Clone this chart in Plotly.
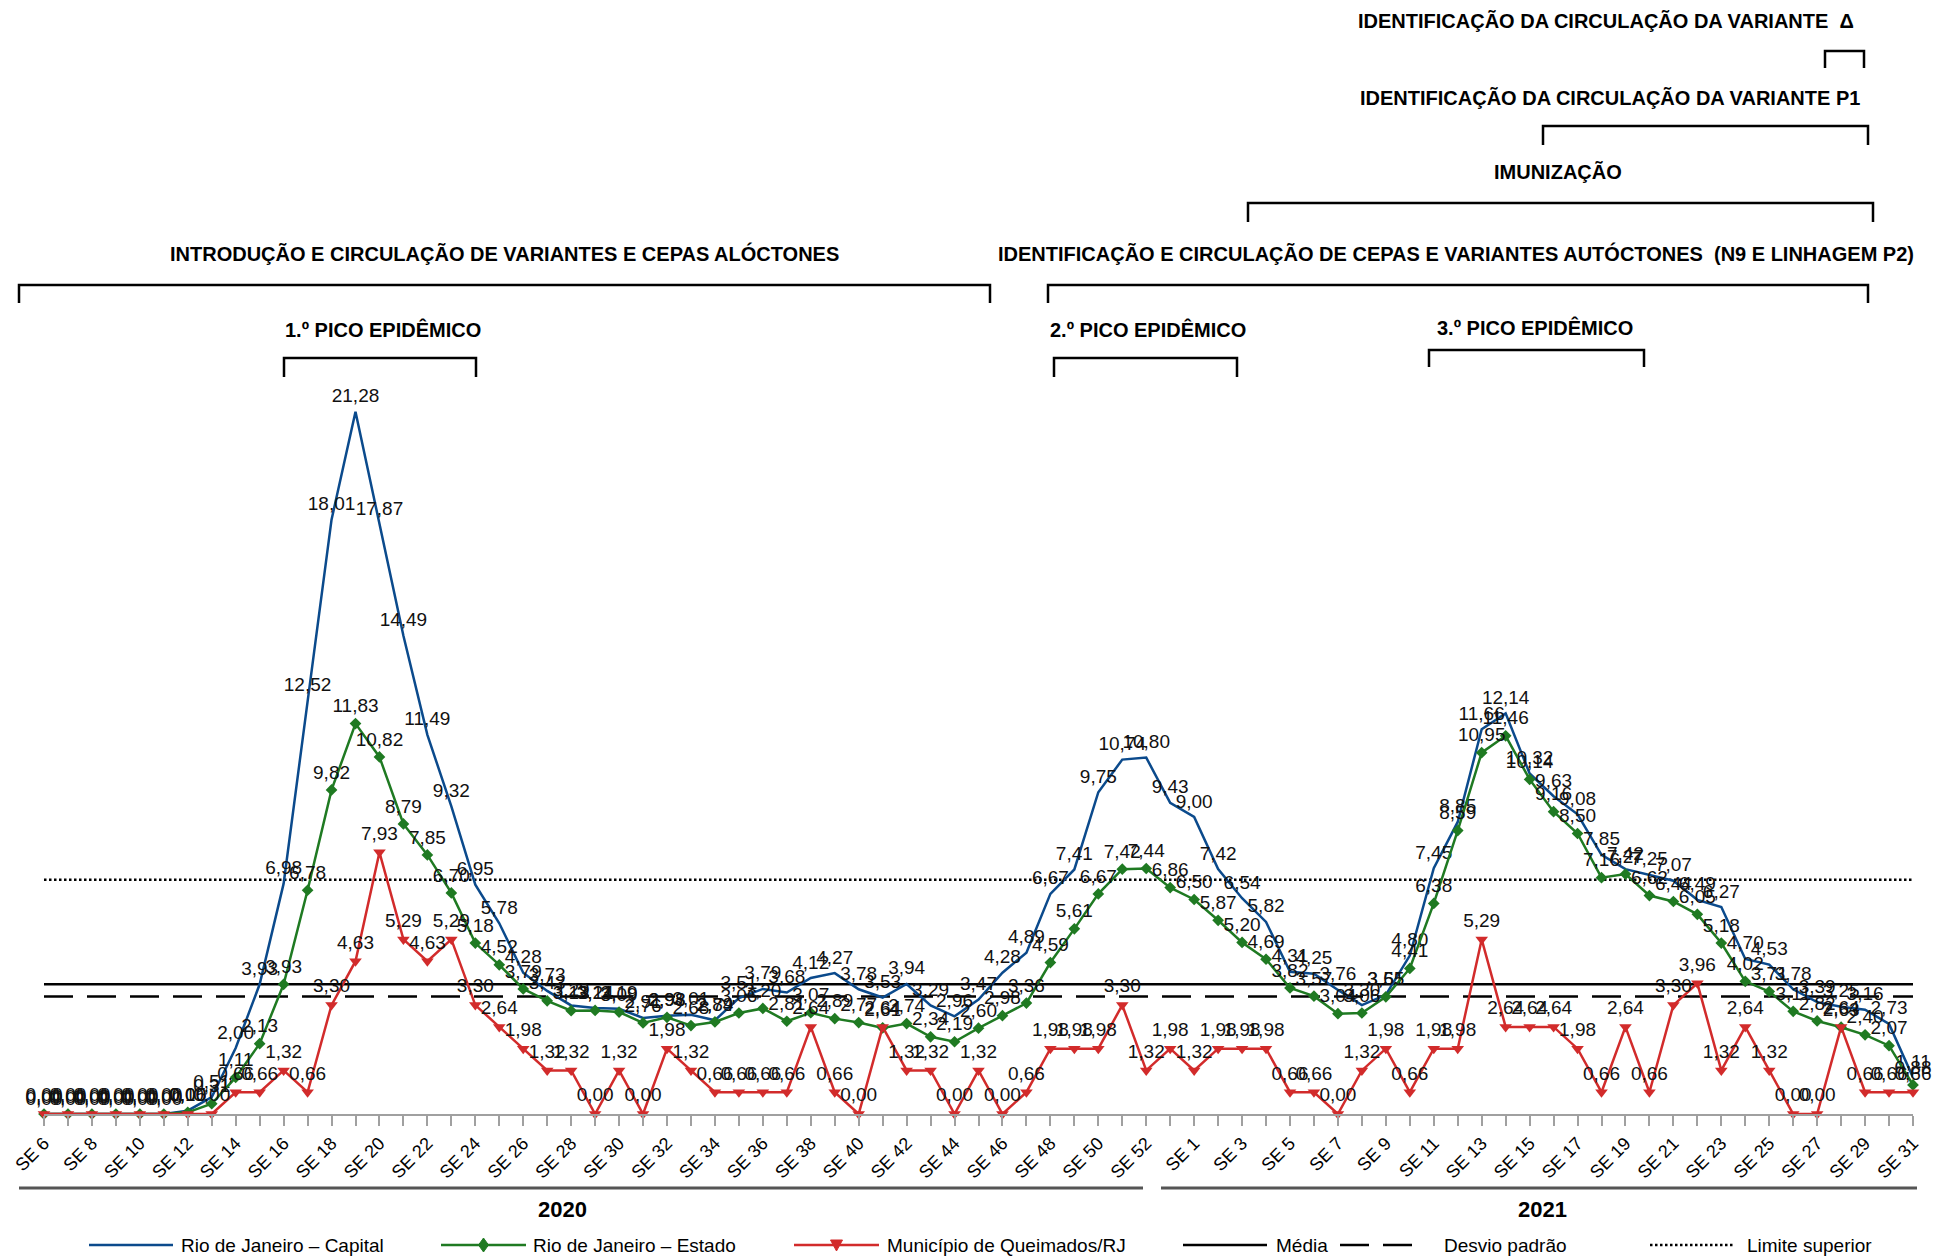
import plotly.graph_objects as go

# semanas epidemiologicas: 2020 (SE 6 a SE 53) e 2021 (SE 1 a SE 31)
weeks_2020 = [f"SE {n}" for n in range(6, 54)]
weeks_2021 = [f"SE {n}" for n in range(1, 32)]
weeks = weeks_2020 + weeks_2021

capital = [
    0.00, 0.00, 0.00, 0.00, 0.00, 0.00, 0.10, 0.51, 2.00, 3.93, 6.98, 12.52,
    18.01, 21.28, 17.87, 14.49, 11.49, 9.32, 6.95, 5.78, 4.28, 3.73, 3.29, 3.21,
    3.19, 2.91, 2.98, 3.01, 2.84, 3.51, 3.79, 3.68, 4.12, 4.27, 3.78, 3.53,
    3.94, 3.29, 2.96, 3.47, 4.28, 4.89, 6.67, 7.41, 9.75, 10.74, 10.80, 9.43,
    9.00, 7.42, 6.54, 5.82, 4.31, 4.25, 3.76, 3.30, 3.61, 4.80, 7.45, 8.85,
    11.66, 12.14, 10.32, 9.63, 9.08, 7.85, 7.42, 7.25, 7.07, 6.49, 6.27, 4.70,
    4.53, 3.78, 3.39, 3.25, 3.16, 2.73, 1.11]

estado = [
    0.00, 0.00, 0.00, 0.00, 0.00, 0.00, 0.05, 0.31, 1.11, 2.13, 3.93, 6.78,
    9.82, 11.83, 10.82, 8.79, 7.85, 6.70, 5.18, 4.52, 3.79, 3.43, 3.13, 3.14,
    3.09, 2.76, 2.93, 2.68, 2.79, 3.06, 3.20, 2.81, 3.07, 2.89, 2.77, 2.61,
    2.74, 2.34, 2.19, 2.60, 2.98, 3.36, 4.59, 5.61, 6.67, 7.42, 7.44, 6.86,
    6.50, 5.87, 5.20, 4.69, 3.82, 3.57, 3.04, 3.06, 3.55, 4.41, 6.38, 8.59,
    10.95, 11.46, 10.14, 9.16, 8.50, 7.16, 7.27, 6.62, 6.44, 6.05, 5.18, 4.02,
    3.71, 3.11, 2.82, 2.63, 2.40, 2.07, 0.88]

queimados = [
    0.00, 0.00, 0.00, 0.00, 0.00, 0.00, 0.00, 0.00, 0.66, 0.66, 1.32, 0.66,
    3.30, 4.63, 7.93, 5.29, 4.63, 5.29, 3.30, 2.64, 1.98, 1.32, 1.32, 0.00,
    1.32, 0.00, 1.98, 1.32, 0.66, 0.66, 0.66, 0.66, 2.64, 0.66, 0.00, 2.64,
    1.32, 1.32, 0.00, 1.32, 0.00, 0.66, 1.98, 1.98, 1.98, 3.30, 1.32, 1.98,
    1.32, 1.98, 1.98, 1.98, 0.66, 0.66, 0.00, 1.32, 1.98, 0.66, 1.98, 1.98,
    5.29, 2.64, 2.64, 2.64, 1.98, 0.66, 2.64, 0.66, 3.30, 3.96, 1.32, 2.64,
    1.32, 0.00, 0.00, 2.64, 0.66, 0.66, 0.66]

media = 3.93
desvio = 3.56
limite = 7.10

BLUE = "#0B4A8C"
GREEN = "#1F7A22"
RED = "#D22B2B"
FONT = "Liberation Sans"
BOLD = "Liberation Sans Narrow, Arial Narrow, Liberation Sans"

x = list(range(len(weeks)))


def fmt(v):
    return f"{v:.2f}".replace(".", ",")


# screen pixel -> paper (plot area x 44..1913, y 0..1114)
def px(xs):
    return (xs - 44) / 1869


def py(ys):
    return (1114 - ys) / 1114


fig = go.Figure()

# linhas de referencia
for val, dash in [(media, "solid"), (desvio, "29px,14px"), (limite, "2.5px,2.5px")]:
    fig.add_trace(go.Scatter(x=x, y=[val] * len(x), mode="lines",
                             line=dict(color="black", width=2.5, dash=dash),
                             hoverinfo="skip", showlegend=False))

lab_font = dict(size=19, color="#111", family=FONT)
fig.add_trace(go.Scatter(x=x, y=capital, mode="lines+markers+text",
                         text=[fmt(v) for v in capital], textposition="top center",
                         textfont=lab_font,
                         line=dict(color=BLUE, width=2.5),
                         marker=dict(size=6, opacity=0),
                         cliponaxis=False, showlegend=False))
fig.add_trace(go.Scatter(x=x, y=estado, mode="lines+markers+text",
                         text=[fmt(v) for v in estado], textposition="top center",
                         textfont=lab_font,
                         line=dict(color=GREEN, width=2.5),
                         marker=dict(symbol="diamond", size=9, color=GREEN),
                         cliponaxis=False, showlegend=False))
fig.add_trace(go.Scatter(x=x, y=queimados, mode="lines+markers+text",
                         text=[fmt(v) for v in queimados], textposition="top center",
                         textfont=lab_font,
                         line=dict(color=RED, width=2.5),
                         marker=dict(symbol="triangle-down", size=11, color=RED),
                         cliponaxis=False, showlegend=False))

shapes = []
annotations = []

# colchetes e rotulos dos periodos
brackets = [
    (1825, 1864, 51, 68),
    (1543, 1868, 126, 145),
    (1248, 1873, 203, 222),
    (19, 990, 285, 303),
    (1048, 1868, 285, 303),
    (284, 476, 358, 377),
    (1054, 1237, 358, 377),
    (1429, 1644, 350, 367),
]
for x0, x1, yt, yb in brackets:
    shapes.append(dict(type="path", xref="paper", yref="paper",
                       path=f"M{px(x0)},{py(yb)} L{px(x0)},{py(yt)} L{px(x1)},{py(yt)} L{px(x1)},{py(yb)}",
                       line=dict(color="black", width=2.5)))

labels_top = [
    ("IDENTIFICAÇÃO DA CIRCULAÇÃO DA VARIANTE  Δ", 1606, 21),
    ("IDENTIFICAÇÃO DA CIRCULAÇÃO DA VARIANTE P1", 1610, 98),
    ("IMUNIZAÇÃO", 1558, 172),
    ("INTRODUÇÃO E CIRCULAÇÃO DE VARIANTES E CEPAS ALÓCTONES", 504, 253),
    ("IDENTIFICAÇÃO E CIRCULAÇÃO DE CEPAS E VARIANTES AUTÓCTONES  (N9 E LINHAGEM P2)", 1456, 253),
    ("1.º PICO EPIDÊMICO", 383, 329),
    ("2.º PICO EPIDÊMICO", 1148, 329),
    ("3.º PICO EPIDÊMICO", 1535, 327),
]
for txt, xc, yc in labels_top:
    annotations.append(dict(text=f"<b>{txt}</b>", xref="paper", yref="paper",
                            x=px(xc), y=py(yc), showarrow=False,
                            xanchor="center", yanchor="middle",
                            font=dict(size=20, color="black", family=BOLD)))

# separadores de ano
for x0, x1, yr, xc in [(19, 1143, "2020", 562), (1161, 1917, "2021", 1542)]:
    shapes.append(dict(type="line", xref="paper", yref="paper",
                       x0=px(x0), x1=px(x1), y0=py(1188), y1=py(1188),
                       line=dict(color="#555", width=3)))
    annotations.append(dict(text=f"<b>{yr}</b>", xref="paper", yref="paper",
                            x=px(xc), y=py(1209), showarrow=False,
                            xanchor="center", yanchor="middle",
                            font=dict(size=22, color="black", family=BOLD)))

# legenda desenhada a mao
ly = py(1245)
legend_items = [
    ("Rio de Janeiro – Capital", BLUE, "solid", None, 89, 173, 179),
    ("Rio de Janeiro – Estado", GREEN, "solid", "diamond", 441, 526, 531),
    ("Município de Queimados/RJ", RED, "solid", "tri", 794, 879, 885),
    ("Média", "black", "solid", None, 1183, 1267, 1274),
    ("Desvio padrão", "black", "29px,14px", None, 1340, 1412, 1442),
    ("Limite superior", "black", "2.5px,2.5px", None, 1650, 1735, 1745),
]
for name, col, dash, sym, x0, x1, xt in legend_items:
    shapes.append(dict(type="line", xref="paper", yref="paper",
                       x0=px(x0), x1=px(x1), y0=ly, y1=ly,
                       line=dict(color=col, width=2.5, dash=dash)))
    xm = (x0 + x1) / 2
    if sym == "diamond":
        shapes.append(dict(type="path", xref="paper", yref="paper",
                           path=f"M{px(xm - 5)},{ly} L{px(xm)},{py(1238)} L{px(xm + 5)},{ly} L{px(xm)},{py(1252)} Z",
                           fillcolor=col, line=dict(color=col, width=1)))
    elif sym == "tri":
        shapes.append(dict(type="path", xref="paper", yref="paper",
                           path=f"M{px(xm - 6)},{py(1240)} L{px(xm + 6)},{py(1240)} L{px(xm)},{py(1251)} Z",
                           fillcolor=col, line=dict(color=col, width=1)))
    annotations.append(dict(text=name, xref="paper", yref="paper",
                            x=px(xt), y=ly, showarrow=False,
                            xanchor="left", yanchor="middle",
                            font=dict(size=19, color="black", family=BOLD)))

fig.update_xaxes(range=[0, len(weeks) - 1],
                 tickvals=x[::2], ticktext=weeks[::2], tickangle=-45,
                 ticks="outside", ticklen=10, tickcolor="#a0a0a0", tickwidth=1.5,
                 minor=dict(ticks="outside", ticklen=10, dtick=1, tick0=0,
                            tickcolor="#a0a0a0", tickwidth=1.5),
                 showline=True, linecolor="#a0a0a0", linewidth=1.5,
                 showgrid=False, zeroline=False,
                 tickfont=dict(size=18, color="black", family=FONT))
fig.update_yaxes(range=[0, 1114 / 33], visible=False, showgrid=False, zeroline=False)

fig.update_layout(width=1937, height=1256,
                  margin=dict(l=44, r=24, t=0, b=142),
                  paper_bgcolor="white", plot_bgcolor="white",
                  showlegend=False, shapes=shapes, annotations=annotations,
                  font=dict(family=FONT, color="black"))

# remove the default page margin so the figure fills the window exactly
fig.write_html("out.html", config={"displayModeBar": False},
               post_script="document.body.style.margin='0px';document.body.style.overflow='hidden';")
